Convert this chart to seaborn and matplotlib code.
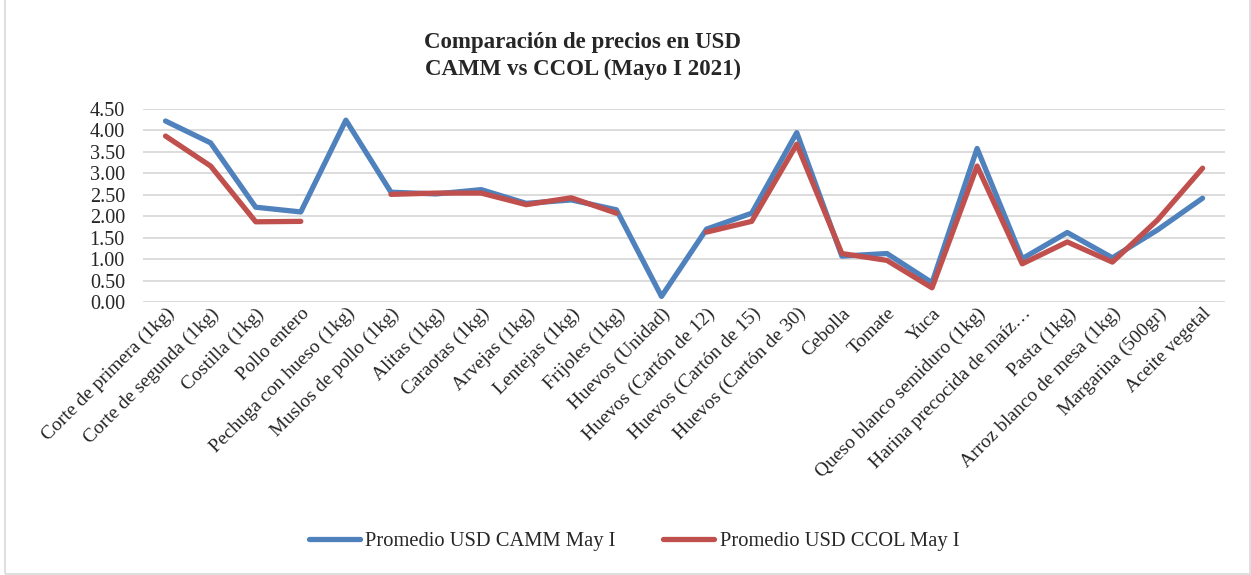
import numpy as np
import pandas as pd
import matplotlib
matplotlib.use("Agg")
import matplotlib.pyplot as plt
import seaborn as sns
from matplotlib.patches import Rectangle

# ---- data ----
productos = [
    "Corte de primera (1kg)", "Corte de segunda (1kg)", "Costilla (1kg)",
    "Pollo entero", "Pechuga con hueso (1kg)", "Muslos de pollo (1kg)",
    "Alitas (1kg)", "Caraotas (1kg)", "Arvejas (1kg)", "Lentejas (1kg)",
    "Frijoles (1kg)", "Huevos (Unidad)", "Huevos (Cartón de 12)",
    "Huevos (Cartón de 15)", "Huevos (Cartón de 30)", "Cebolla", "Tomate",
    "Yuca", "Queso blanco semiduro (1kg)", "Harina precocida de maíz…",
    "Pasta (1kg)", "Arroz blanco de mesa (1kg)", "Margarina (500gr)",
    "Aceite vegetal",
]
camm = [4.22, 3.71, 2.21, 2.10, 4.24, 2.56, 2.52, 2.62, 2.30, 2.38, 2.15, 0.13,
        1.70, 2.07, 3.95, 1.07, 1.13, 0.45, 3.58, 1.01, 1.62, 1.03, 1.68, 2.42]
ccol = [3.87, 3.17, 1.87, 1.88, np.nan, 2.51, 2.54, 2.54, 2.27, 2.43, 2.07, np.nan,
        1.63, 1.88, 3.68, 1.13, 0.97, 0.33, 3.17, 0.89, 1.40, 0.93, 1.91, 3.12]
serie_camm = "Promedio USD CAMM May I"
serie_ccol = "Promedio USD CCOL May I"
yticks = [0, 0.5, 1.0, 1.5, 2.0, 2.5, 3.0, 3.5, 4.0, 4.5]

sns.set_style("white")
plt.rcParams["font.family"] = ["Liberation Serif", "DejaVu Serif"]

fig = plt.figure(figsize=(12.51, 5.75), dpi=100)
ax = fig.add_axes([0.1143, 0.4748, 0.8650, 0.3356])

pos = np.arange(len(productos))
df = pd.DataFrame({"pos": pos, serie_camm: camm, serie_ccol: ccol})

for serie, color in [(serie_camm, "#4F81BD"), (serie_ccol, "#C0504D")]:
    # draw contiguous runs so the line breaks at missing values
    vals = df[serie].to_numpy()
    grupo = np.cumsum(np.isnan(vals))
    sub = df.assign(grupo=grupo).dropna(subset=[serie])
    first = True
    for _, g in sub.groupby("grupo"):
        sns.lineplot(x=g["pos"], y=g[serie], ax=ax, color=color, lw=3.8,
                     solid_capstyle="round", solid_joinstyle="round",
                     label=serie if first else None, legend=False)
        first = False

ax.set_xlim(-0.5, len(productos) - 0.5)
ax.set_ylim(0, 4.5)
ax.set_yticks(yticks)
ax.set_yticklabels([f"{t:.2f}" for t in yticks], fontsize=14.5)
ax.set_xticks(pos)
ax.set_xticklabels(productos, rotation=45, ha="right", rotation_mode="anchor",
                   fontsize=14)
ax.tick_params(axis="x", length=0, pad=2)
ax.tick_params(axis="y", length=0, pad=13)
ax.set_xlabel("")
ax.set_ylabel("")
ax.grid(axis="y", color="#D9D9D9", lw=1.3)
ax.set_axisbelow(True)
for s in ax.spines.values():
    s.set_visible(False)

fig.text(583 / 1251, 1 - 56 / 575,
         "Comparación de precios en USD\nCAMM vs CCOL (Mayo I 2021)",
         ha="center", va="center", fontsize=16.5, fontweight="bold",
         linespacing=1.4)

h, l = ax.get_legend_handles_labels()
fig.legend(h, l, loc="center", bbox_to_anchor=(634 / 1251, 1 - 541 / 575),
           ncol=2, frameon=False, fontsize=14.8, handlelength=2.5,
           handletextpad=0.25, columnspacing=2.3)

fig.patches.append(Rectangle((0.004, 0.002), 0.995, 1.2, transform=fig.transFigure,
                             fill=False, edgecolor="#D9D9D9", lw=1.2))

fig.savefig("out.png", dpi=100)
